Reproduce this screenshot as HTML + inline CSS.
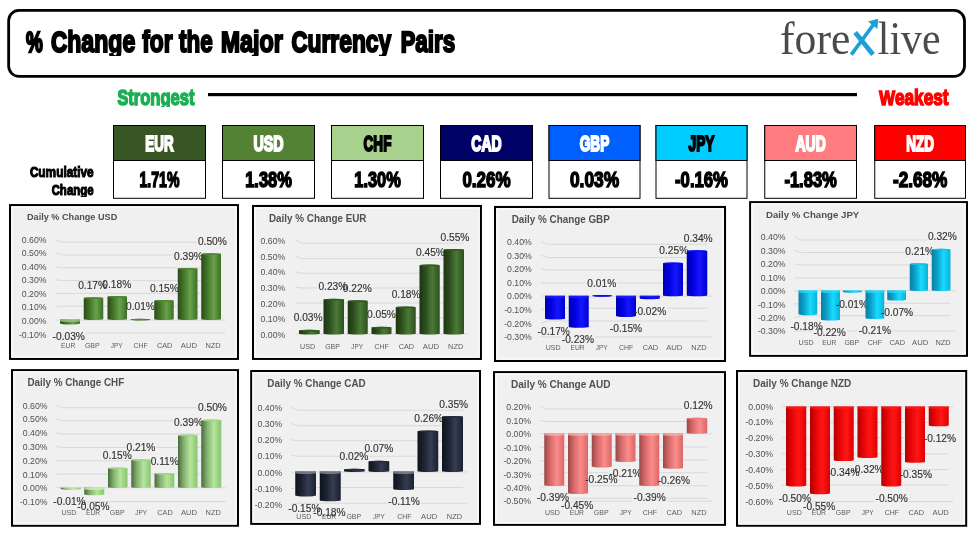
<!DOCTYPE html>
<html><head><meta charset="utf-8"><title>% Change for the Major Currency Pairs</title>
<style>
html,body{margin:0;padding:0;background:#fff;}
body{width:977px;height:536px;overflow:hidden;font-family:"Liberation Sans",sans-serif;}
svg{display:block;}
text{font-family:"Liberation Sans",sans-serif;}
.ct{font-weight:bold;fill:#505050;}
.yl{font-size:8.7px;fill:#505050;text-anchor:end;}
.cl{font-size:7.7px;fill:#5c5c5c;text-anchor:middle;}
.dl{font-size:10.2px;fill:#333;stroke:#333;stroke-width:0.15px;text-anchor:middle;}
.gl{fill:none;stroke:#d9d9d9;stroke-width:1;}
.imp{font-weight:bold;stroke-linejoin:miter;stroke-miterlimit:2.5;vector-effect:non-scaling-stroke;}
.logo{font-family:"Liberation Serif",serif;font-size:46px;fill:#4a4a4a;}
</style></head><body>
<svg width="977" height="536" viewBox="0 0 977 536">
<defs>
<linearGradient id="g_dgreen" x1="0" x2="1" y1="0" y2="0"><stop offset="0" stop-color="#2a4a1a"/><stop offset="0.3" stop-color="#437529"/><stop offset="0.63" stop-color="#69a24a"/><stop offset="1" stop-color="#3d6e27"/></linearGradient>
<linearGradient id="g_egreen" x1="0" x2="1" y1="0" y2="0"><stop offset="0" stop-color="#1c3412"/><stop offset="0.3" stop-color="#2d4f1f"/><stop offset="0.63" stop-color="#4a7a35"/><stop offset="1" stop-color="#2c5120"/></linearGradient>
<linearGradient id="g_blue" x1="0" x2="1" y1="0" y2="0"><stop offset="0" stop-color="#0000b0"/><stop offset="0.3" stop-color="#0000de"/><stop offset="0.63" stop-color="#1616ff"/><stop offset="1" stop-color="#0000d0"/></linearGradient>
<linearGradient id="g_cyan" x1="0" x2="1" y1="0" y2="0"><stop offset="0" stop-color="#087ea4"/><stop offset="0.3" stop-color="#0ca2ca"/><stop offset="0.63" stop-color="#16dcff"/><stop offset="1" stop-color="#0cb0d8"/></linearGradient>
<linearGradient id="g_lgreen" x1="0" x2="1" y1="0" y2="0"><stop offset="0" stop-color="#4a6a3c"/><stop offset="0.3" stop-color="#86b272"/><stop offset="0.63" stop-color="#b4e69a"/><stop offset="1" stop-color="#8ac272"/></linearGradient>
<linearGradient id="g_navy" x1="0" x2="1" y1="0" y2="0"><stop offset="0" stop-color="#0f131c"/><stop offset="0.3" stop-color="#1c2230"/><stop offset="0.63" stop-color="#353d52"/><stop offset="1" stop-color="#1a2030"/></linearGradient>
<linearGradient id="g_pink" x1="0" x2="1" y1="0" y2="0"><stop offset="0" stop-color="#984848"/><stop offset="0.3" stop-color="#d86a6a"/><stop offset="0.63" stop-color="#fa8c8c"/><stop offset="1" stop-color="#dc6666"/></linearGradient>
<linearGradient id="g_red" x1="0" x2="1" y1="0" y2="0"><stop offset="0" stop-color="#b00000"/><stop offset="0.3" stop-color="#e60606"/><stop offset="0.63" stop-color="#ff1616"/><stop offset="1" stop-color="#de0000"/></linearGradient>
</defs>
<clipPath id="cpT"><rect x="0" y="29.6" width="977" height="26.3"/></clipPath>
<clipPath id="cpS"><rect x="0" y="88" width="977" height="18.8"/></clipPath>
<clipPath id="cpC1"><rect x="0" y="165" width="120" height="14.5"/></clipPath>
<clipPath id="cpC2"><rect x="0" y="182.8" width="120" height="14.3"/></clipPath>
<filter id="idf" x="0" y="0" width="977" height="536" filterUnits="userSpaceOnUse"><feOffset dx="0" dy="0"/></filter>
<rect x="0" y="0" width="977" height="536" fill="#fff"/>
<g filter="url(#idf)">
<!-- title box -->
<rect x="8.65" y="10.45" width="955.85" height="65.95" rx="10.3" ry="10.3" fill="#fff" stroke="#000" stroke-width="2.8"/>
<g clip-path="url(#cpT)"><text transform="translate(26.00,51.8) scale(0.6364,1)" class="imp" font-size="29.6" fill="#000" stroke="#000" stroke-width="2.0" text-anchor="start">%</text></g>
<g clip-path="url(#cpT)"><text transform="translate(51.00,51.8) scale(0.7579,1)" class="imp" font-size="29.6" fill="#000" stroke="#000" stroke-width="2.0" text-anchor="start">C<tspan font-size="30.49">hange</tspan></text></g>
<g clip-path="url(#cpT)"><text transform="translate(142.25,51.8) scale(0.7505,1)" class="imp" font-size="29.6" fill="#000" stroke="#000" stroke-width="2.0" text-anchor="start"><tspan font-size="30.49">for</tspan></text></g>
<g clip-path="url(#cpT)"><text transform="translate(179.00,51.8) scale(0.7380,1)" class="imp" font-size="29.6" fill="#000" stroke="#000" stroke-width="2.0" text-anchor="start"><tspan font-size="30.49">the</tspan></text></g>
<g clip-path="url(#cpT)"><text transform="translate(221.00,51.8) scale(0.7695,1)" class="imp" font-size="29.6" fill="#000" stroke="#000" stroke-width="2.0" text-anchor="start">M<tspan font-size="30.49">ajor</tspan></text></g>
<g clip-path="url(#cpT)"><text transform="translate(291.40,51.8) scale(0.7499,1)" class="imp" font-size="29.6" fill="#000" stroke="#000" stroke-width="2.0" text-anchor="start">C<tspan font-size="30.49">urrency</tspan></text></g>
<g clip-path="url(#cpT)"><text transform="translate(400.70,51.8) scale(0.7366,1)" class="imp" font-size="29.6" fill="#000" stroke="#000" stroke-width="2.0" text-anchor="start">P<tspan font-size="30.49">airs</tspan></text></g>
<!-- logo -->
<text transform="translate(780,54.2) scale(0.95,1)" class="logo">fore</text>
<text transform="translate(877.8,54.2) scale(0.91,1)" class="logo">live</text>
<g fill="none" stroke="#1e9fd8">
<path d="M851.3 54.6 L875 22.5" stroke-width="3.7"/>
<path d="M855.2 32.6 L873 54.6" stroke-width="4.8"/>
</g>
<path d="M868 21.6 L878.2 18.8 L877.4 29 Z" fill="#1e9fd8"/>
<!-- strongest / weakest -->
<g clip-path="url(#cpS)"><text transform="translate(117.45,104.6) scale(0.7526,1)" class="imp" font-size="21.4" fill="#1aaf54" stroke="#1aaf54" stroke-width="1.5" text-anchor="start">S<tspan font-size="22.04">trongest</tspan></text></g>
<g clip-path="url(#cpS)"><text transform="translate(879.25,104.5) scale(0.7944,1)" class="imp" font-size="21.0" fill="#ff0000" stroke="#ff0000" stroke-width="1.5" text-anchor="start">W<tspan font-size="21.63">eakest</tspan></text></g>
<rect x="208" y="93" width="649" height="3.2" fill="#000"/>
<!-- cumulative change -->
<g clip-path="url(#cpC1)"><text transform="translate(93.70,177) scale(0.7673,1)" class="imp" font-size="15" fill="#000" stroke="#000" stroke-width="1.1" text-anchor="end">C<tspan font-size="15.45">umulative</tspan></text></g>
<g clip-path="url(#cpC2)"><text transform="translate(93.70,194.5) scale(0.7438,1)" class="imp" font-size="15" fill="#000" stroke="#000" stroke-width="1.1" text-anchor="end">C<tspan font-size="15.45">hange</tspan></text></g>
<rect x="113.5" y="125.5" width="92" height="72.8" fill="#fff" stroke="#000" stroke-width="1"/>
<rect x="113.5" y="125.5" width="92" height="35" fill="#375623" stroke="#000" stroke-width="1"/>
<text transform="translate(159.50,151.25) scale(0.5905,1)" class="imp" font-size="22.7" fill="#fff" stroke="#fff" stroke-width="1.7" text-anchor="middle">EUR</text>
<text transform="translate(159.50,186.75) scale(0.6523,1)" class="imp" font-size="21.6" fill="#000" stroke="#000" stroke-width="1.3" text-anchor="middle">1.71%</text>
<rect x="222.5" y="125.5" width="92" height="72.8" fill="#fff" stroke="#000" stroke-width="1"/>
<rect x="222.5" y="125.5" width="92" height="35" fill="#548235" stroke="#000" stroke-width="1"/>
<text transform="translate(268.50,151.25) scale(0.6270,1)" class="imp" font-size="22.7" fill="#fff" stroke="#fff" stroke-width="1.7" text-anchor="middle">USD</text>
<text transform="translate(268.50,186.75) scale(0.7625,1)" class="imp" font-size="21.6" fill="#000" stroke="#000" stroke-width="1.3" text-anchor="middle">1.38%</text>
<rect x="331.5" y="125.5" width="92" height="72.8" fill="#fff" stroke="#000" stroke-width="1"/>
<rect x="331.5" y="125.5" width="92" height="35" fill="#a9d18e" stroke="#000" stroke-width="1"/>
<text transform="translate(377.50,151.25) scale(0.5959,1)" class="imp" font-size="22.7" fill="#000" stroke="#000" stroke-width="1.7" text-anchor="middle">CHF</text>
<text transform="translate(377.50,186.75) scale(0.7584,1)" class="imp" font-size="21.6" fill="#000" stroke="#000" stroke-width="1.3" text-anchor="middle">1.30%</text>
<rect x="440.5" y="125.5" width="92" height="72.8" fill="#fff" stroke="#000" stroke-width="1"/>
<rect x="440.5" y="125.5" width="92" height="35" fill="#000066" stroke="#000" stroke-width="1"/>
<text transform="translate(486.50,151.25) scale(0.6161,1)" class="imp" font-size="22.7" fill="#fff" stroke="#fff" stroke-width="1.7" text-anchor="middle">CAD</text>
<text transform="translate(486.50,186.75) scale(0.7870,1)" class="imp" font-size="21.6" fill="#000" stroke="#000" stroke-width="1.3" text-anchor="middle">0.26%</text>
<rect x="549.0" y="125.5" width="91.0" height="72.8" fill="#fff" stroke="#000" stroke-width="1"/>
<rect x="549.0" y="125.5" width="91.0" height="35" fill="#0060ff" stroke="#000" stroke-width="1"/>
<text transform="translate(594.50,151.25) scale(0.6007,1)" class="imp" font-size="22.7" fill="#fff" stroke="#fff" stroke-width="1.7" text-anchor="middle">GBP</text>
<text transform="translate(594.50,186.75) scale(0.8033,1)" class="imp" font-size="21.6" fill="#000" stroke="#000" stroke-width="1.3" text-anchor="middle">0.03%</text>
<rect x="656.0" y="125.5" width="91.0" height="72.8" fill="#fff" stroke="#000" stroke-width="1"/>
<rect x="656.0" y="125.5" width="91.0" height="35" fill="#00ccff" stroke="#000" stroke-width="1"/>
<text transform="translate(701.50,151.25) scale(0.6036,1)" class="imp" font-size="22.7" fill="#000" stroke="#000" stroke-width="1.7" text-anchor="middle">JPY</text>
<text transform="translate(701.50,186.75) scale(0.7730,1)" class="imp" font-size="21.6" fill="#000" stroke="#000" stroke-width="1.3" text-anchor="middle">-0.16%</text>
<rect x="764.75" y="125.5" width="91.75" height="72.8" fill="#fff" stroke="#000" stroke-width="1"/>
<rect x="764.75" y="125.5" width="91.75" height="35" fill="#ff7c80" stroke="#000" stroke-width="1"/>
<text transform="translate(810.62,151.25) scale(0.6161,1)" class="imp" font-size="22.7" fill="#fff" stroke="#fff" stroke-width="1.7" text-anchor="middle">AUD</text>
<text transform="translate(810.62,186.75) scale(0.7664,1)" class="imp" font-size="21.6" fill="#000" stroke="#000" stroke-width="1.3" text-anchor="middle">-1.83%</text>
<rect x="874.75" y="125.5" width="90.75" height="72.8" fill="#fff" stroke="#000" stroke-width="1"/>
<rect x="874.75" y="125.5" width="90.75" height="35" fill="#ff0000" stroke="#000" stroke-width="1"/>
<text transform="translate(920.12,151.25) scale(0.5959,1)" class="imp" font-size="22.7" fill="#fff" stroke="#fff" stroke-width="1.7" text-anchor="middle">NZD</text>
<text transform="translate(920.12,186.75) scale(0.7956,1)" class="imp" font-size="21.6" fill="#000" stroke="#000" stroke-width="1.3" text-anchor="middle">-2.68%</text>
<rect x="10.05" y="205.1" width="227.9" height="153.8" fill="#f0f0f0" stroke="#000" stroke-width="2.1"/>
<rect x="12.1" y="207.15" width="223.8" height="149.7" fill="none" stroke="#f8f8f8" stroke-width="2"/>
<text x="27" y="219.88" class="ct" font-size="9.4" textLength="90.25" lengthAdjust="spacingAndGlyphs">Daily % Change USD</text>
<path d="M55.3 239.7L61.5 242.2M61.5 242.2H196.87" class="gl"/>
<path d="M55.3 252.7L61.5 255M61.5 255H172.96M203.89 255H221" class="gl"/>
<path d="M55.3 266.7L61.5 267.8M61.5 267.8H221" class="gl"/>
<path d="M55.3 279.7L61.5 280.6M61.5 280.6H101.36M132.28 280.6H221" class="gl"/>
<path d="M55.3 293.7L61.5 293.4M61.5 293.4H221" class="gl"/>
<path d="M55.3 306.7L61.5 306.2M61.5 306.2H125.02M155.94 306.2H221" class="gl"/>
<path d="M55.3 320.2L61.5 320.2M61.5 320.2H225.5" class="gl"/>
<path d="M55.3 334.2L61.5 333.2M85.91 333.2H225.5" class="gl"/>
<text x="46.5" y="243" class="yl">0.60%</text>
<text x="46.5" y="256" class="yl">0.50%</text>
<text x="46.5" y="270" class="yl">0.40%</text>
<text x="46.5" y="283" class="yl">0.30%</text>
<text x="46.5" y="297" class="yl">0.20%</text>
<text x="46.5" y="310" class="yl">0.10%</text>
<text x="46.5" y="323.5" class="yl">0.00%</text>
<text x="46.5" y="337.5" class="yl">-0.10%</text>
<text x="68.2" y="347.75" class="cl" textLength="14.25" lengthAdjust="spacingAndGlyphs">EUR</text>
<text x="92.32" y="347.75" class="cl" textLength="14.75" lengthAdjust="spacingAndGlyphs">GBP</text>
<text x="116.69" y="347.75" class="cl" textLength="11.75" lengthAdjust="spacingAndGlyphs">JPY</text>
<text x="140.56" y="347.75" class="cl" textLength="14.25" lengthAdjust="spacingAndGlyphs">CHF</text>
<text x="164.68" y="347.75" class="cl" textLength="15.5" lengthAdjust="spacingAndGlyphs">CAD</text>
<text x="188.92" y="347.75" class="cl" textLength="16.25" lengthAdjust="spacingAndGlyphs">AUD</text>
<text x="213.04" y="347.75" class="cl" textLength="15.25" lengthAdjust="spacingAndGlyphs">NZD</text>
<path d="M60 319.6V323.61A10 0.8 0 0 0 80 323.61V319.6Z" fill="url(#g_dgreen)"/>
<path d="M60 319.6H80V321.2A10 0.9 0 0 1 60 321.2Z" fill="#9ec389" opacity="0.8"/>
<text x="68.75" y="339.61" class="dl">-0.03%</text>
<path d="M83.75 298.16V319.15A9.75 0.85 0 0 0 103.25 319.15V298.16A9.75 0.85 0 0 0 83.75 298.16Z" fill="url(#g_dgreen)"/>
<ellipse cx="93.5" cy="298.16" rx="9.75" ry="0.85" fill="#4f8535"/>
<text x="92.66" y="288.91" class="dl">0.17%</text>
<path d="M107.5 296.82V319.15A9.75 0.85 0 0 0 127 319.15V296.82A9.75 0.85 0 0 0 107.5 296.82Z" fill="url(#g_dgreen)"/>
<ellipse cx="117.25" cy="296.82" rx="9.75" ry="0.85" fill="#4f8535"/>
<text x="116.82" y="287.57" class="dl">0.18%</text>
<path d="M130.5 319.52V319.72A10 0.85 0 0 0 150.5 319.72V319.52A10 0.85 0 0 0 130.5 319.52Z" fill="url(#g_dgreen)"/>
<ellipse cx="140.5" cy="319.52" rx="10" ry="0.85" fill="#4f8535"/>
<text x="140.48" y="310.27" class="dl">0.01%</text>
<path d="M154.25 300.83V319.15A9.75 0.85 0 0 0 173.75 319.15V300.83A9.75 0.85 0 0 0 154.25 300.83Z" fill="url(#g_dgreen)"/>
<ellipse cx="164" cy="300.83" rx="9.75" ry="0.85" fill="#4f8535"/>
<text x="164.39" y="291.58" class="dl">0.15%</text>
<path d="M177.75 268.79V319.15A9.88 0.85 0 0 0 197.5 319.15V268.79A9.88 0.85 0 0 0 177.75 268.79Z" fill="url(#g_dgreen)"/>
<ellipse cx="187.62" cy="268.79" rx="9.88" ry="0.85" fill="#4f8535"/>
<text x="188.43" y="259.54" class="dl">0.39%</text>
<path d="M201.25 254.1V319.15A9.88 0.85 0 0 0 221 319.15V254.1A9.88 0.85 0 0 0 201.25 254.1Z" fill="url(#g_dgreen)"/>
<ellipse cx="211.12" cy="254.1" rx="9.88" ry="0.85" fill="#4f8535"/>
<text x="212.34" y="244.85" class="dl">0.50%</text>
<rect x="253.05" y="206" width="227.85" height="152.9" fill="#f0f0f0" stroke="#000" stroke-width="2.1"/>
<rect x="255.1" y="208.05" width="223.75" height="148.8" fill="none" stroke="#f8f8f8" stroke-width="2"/>
<text x="269" y="221.66" class="ct" font-size="10.16" textLength="97.5" lengthAdjust="spacingAndGlyphs">Daily % Change EUR</text>
<path d="M295.8 240.2L302 243.25M302 243.25H464" class="gl"/>
<path d="M295.8 256.2L302 258.75M302 258.75H464" class="gl"/>
<path d="M295.8 271.7L302 273.25M302 273.25H464" class="gl"/>
<path d="M295.8 287.2L302 288M302 288H317.45M372.78 288H464" class="gl"/>
<path d="M295.8 303.2L302 303M302 303H464" class="gl"/>
<path d="M295.8 318.45L302 318M323.59 318H366.02M396.94 318H464" class="gl"/>
<path d="M295.8 334.2L302 334M302 334H468.5" class="gl"/>
<text x="285.25" y="243.5" class="yl">0.60%</text>
<text x="285.25" y="259.5" class="yl">0.50%</text>
<text x="285.25" y="275" class="yl">0.40%</text>
<text x="285.25" y="290.5" class="yl">0.30%</text>
<text x="285.25" y="306.5" class="yl">0.20%</text>
<text x="285.25" y="321.75" class="yl">0.10%</text>
<text x="285.25" y="337.5" class="yl">0.00%</text>
<text x="307.57" y="349" class="cl" textLength="15.0" lengthAdjust="spacingAndGlyphs">USD</text>
<text x="332.57" y="349" class="cl" textLength="14.75" lengthAdjust="spacingAndGlyphs">GBP</text>
<text x="357.19" y="349" class="cl" textLength="11.75" lengthAdjust="spacingAndGlyphs">JPY</text>
<text x="381.56" y="349" class="cl" textLength="14.25" lengthAdjust="spacingAndGlyphs">CHF</text>
<text x="406.43" y="349" class="cl" textLength="15.5" lengthAdjust="spacingAndGlyphs">CAD</text>
<text x="430.93" y="349" class="cl" textLength="16.25" lengthAdjust="spacingAndGlyphs">AUD</text>
<text x="455.67" y="349" class="cl" textLength="15.25" lengthAdjust="spacingAndGlyphs">NZD</text>
<path d="M299 330.69V333.65A10.38 0.85 0 0 0 319.75 333.65V330.69A10.38 0.85 0 0 0 299 330.69Z" fill="url(#g_egreen)"/>
<ellipse cx="309.38" cy="330.69" rx="10.38" ry="0.85" fill="#355a26"/>
<text x="308.12" y="321.44" class="dl">0.03%</text>
<path d="M323.5 299.59V333.65A10.25 0.85 0 0 0 344 333.65V299.59A10.25 0.85 0 0 0 323.5 299.59Z" fill="url(#g_egreen)"/>
<ellipse cx="333.75" cy="299.59" rx="10.25" ry="0.85" fill="#355a26"/>
<text x="332.91" y="290.34" class="dl">0.23%</text>
<path d="M347.75 301.14V333.65A10 0.85 0 0 0 367.75 333.65V301.14A10 0.85 0 0 0 347.75 301.14Z" fill="url(#g_egreen)"/>
<ellipse cx="357.75" cy="301.14" rx="10" ry="0.85" fill="#355a26"/>
<text x="357.32" y="291.89" class="dl">0.22%</text>
<path d="M371.5 327.58V333.65A10 0.85 0 0 0 391.5 333.65V327.58A10 0.85 0 0 0 371.5 327.58Z" fill="url(#g_egreen)"/>
<ellipse cx="381.5" cy="327.58" rx="10" ry="0.85" fill="#355a26"/>
<text x="381.48" y="318.33" class="dl">0.05%</text>
<path d="M395.75 307.36V333.65A10 0.85 0 0 0 415.75 333.65V307.36A10 0.85 0 0 0 395.75 307.36Z" fill="url(#g_egreen)"/>
<ellipse cx="405.75" cy="307.36" rx="10" ry="0.85" fill="#355a26"/>
<text x="406.14" y="298.11" class="dl">0.18%</text>
<path d="M419.5 265.38V333.65A10.12 0.85 0 0 0 439.75 333.65V265.38A10.12 0.85 0 0 0 419.5 265.38Z" fill="url(#g_egreen)"/>
<ellipse cx="429.62" cy="265.38" rx="10.12" ry="0.85" fill="#355a26"/>
<text x="430.43" y="256.12" class="dl">0.45%</text>
<path d="M443.5 249.82V333.65A10.25 0.85 0 0 0 464 333.65V249.82A10.25 0.85 0 0 0 443.5 249.82Z" fill="url(#g_egreen)"/>
<ellipse cx="453.75" cy="249.82" rx="10.25" ry="0.85" fill="#355a26"/>
<text x="454.96" y="240.57" class="dl">0.55%</text>
<rect x="495.05" y="207" width="229.95" height="153.95" fill="#f0f0f0" stroke="#000" stroke-width="2.1"/>
<rect x="497.1" y="209.05" width="225.85" height="149.85" fill="none" stroke="#f8f8f8" stroke-width="2"/>
<text x="511.75" y="222.9" class="ct" font-size="10.15" textLength="98" lengthAdjust="spacingAndGlyphs">Daily % Change GBP</text>
<path d="M541.3 241.7L547.5 244.25M547.5 244.25H707.25" class="gl"/>
<path d="M541.3 255.45L547.5 257.5M547.5 257.5H707.25" class="gl"/>
<path d="M541.3 268.95L547.5 270M547.5 270H707.25" class="gl"/>
<path d="M541.3 282.7L547.5 283M547.5 283H586.36M617.28 283H707.25" class="gl"/>
<path d="M541.3 295.95L547.5 296.25M547.5 296.25H711.75" class="gl"/>
<path d="M541.3 309.7L547.5 308.25M547.5 308.25H632.98M667.3 308.25H707.25" class="gl"/>
<path d="M541.3 323.2L547.5 321M547.5 321H707.25" class="gl"/>
<path d="M541.3 336.7L547.5 337M547.5 337H560.75M595.07 337H711.75" class="gl"/>
<text x="531.75" y="245" class="yl">0.40%</text>
<text x="531.75" y="258.75" class="yl">0.30%</text>
<text x="531.75" y="272.25" class="yl">0.20%</text>
<text x="531.75" y="286" class="yl">0.10%</text>
<text x="531.75" y="299.25" class="yl">0.00%</text>
<text x="531.75" y="313" class="yl">-0.10%</text>
<text x="531.75" y="326.5" class="yl">-0.20%</text>
<text x="531.75" y="340" class="yl">-0.30%</text>
<text x="553.2" y="349.75" class="cl" textLength="15.0" lengthAdjust="spacingAndGlyphs">USD</text>
<text x="577.57" y="349.75" class="cl" textLength="14.25" lengthAdjust="spacingAndGlyphs">EUR</text>
<text x="601.69" y="349.75" class="cl" textLength="11.75" lengthAdjust="spacingAndGlyphs">JPY</text>
<text x="626.06" y="349.75" class="cl" textLength="14.25" lengthAdjust="spacingAndGlyphs">CHF</text>
<text x="650.43" y="349.75" class="cl" textLength="15.5" lengthAdjust="spacingAndGlyphs">CAD</text>
<text x="674.3" y="349.75" class="cl" textLength="16.25" lengthAdjust="spacingAndGlyphs">AUD</text>
<text x="698.92" y="349.75" class="cl" textLength="15.25" lengthAdjust="spacingAndGlyphs">NZD</text>
<path d="M545 295.85V318.8A10 0.8 0 0 0 565 318.8V295.85Z" fill="url(#g_blue)"/>
<path d="M545 295.85H565V297.45A10 0.9 0 0 1 545 297.45Z" fill="#1d1dff" opacity="0.8"/>
<text x="553.75" y="334.8" class="dl">-0.17%</text>
<path d="M568.75 295.85V326.9A10 0.8 0 0 0 588.75 326.9V295.85Z" fill="url(#g_blue)"/>
<path d="M568.75 295.85H588.75V297.45A10 0.9 0 0 1 568.75 297.45Z" fill="#1d1dff" opacity="0.8"/>
<text x="577.91" y="342.9" class="dl">-0.23%</text>
<path d="M592.25 295.75V295.95A10 0.85 0 0 0 612.25 295.95V295.75A10 0.85 0 0 0 592.25 295.75Z" fill="url(#g_blue)"/>
<ellipse cx="602.25" cy="295.75" rx="10" ry="0.85" fill="#0a0af4"/>
<text x="601.82" y="286.5" class="dl">0.01%</text>
<path d="M616 295.85V316.1A10 0.8 0 0 0 636 316.1V295.85Z" fill="url(#g_blue)"/>
<path d="M616 295.85H636V297.45A10 0.9 0 0 1 616 297.45Z" fill="#1d1dff" opacity="0.8"/>
<text x="625.98" y="332.1" class="dl">-0.15%</text>
<path d="M639.75 295.85V298.55A10 0.8 0 0 0 659.75 298.55V295.85Z" fill="url(#g_blue)"/>
<path d="M639.75 295.85H659.75V296.67A10 0.9 0 0 1 639.75 296.67Z" fill="#1d1dff" opacity="0.8"/>
<text x="650.14" y="314.55" class="dl">-0.02%</text>
<path d="M663 263.35V295.4A10 0.85 0 0 0 683 295.4V263.35A10 0.85 0 0 0 663 263.35Z" fill="url(#g_blue)"/>
<ellipse cx="673" cy="263.35" rx="10" ry="0.85" fill="#0a0af4"/>
<text x="673.8" y="254.1" class="dl">0.25%</text>
<path d="M686.75 251.2V295.4A10.25 0.85 0 0 0 707.25 295.4V251.2A10.25 0.85 0 0 0 686.75 251.2Z" fill="url(#g_blue)"/>
<ellipse cx="697" cy="251.2" rx="10.25" ry="0.85" fill="#0a0af4"/>
<text x="698.21" y="241.95" class="dl">0.34%</text>
<rect x="750.15" y="202.15" width="216.8" height="153.65" fill="#f0f0f0" stroke="#000" stroke-width="2.1"/>
<rect x="752.2" y="204.2" width="212.7" height="149.55" fill="none" stroke="#f8f8f8" stroke-width="2"/>
<text x="766" y="217.82" class="ct" font-size="9.93" textLength="93.25" lengthAdjust="spacingAndGlyphs">Daily % Change JPY</text>
<path d="M794.3 236.7L800.5 240M800.5 240H926.87" class="gl"/>
<path d="M794.3 250.45L800.5 252.5M800.5 252.5H904.21M935.14 252.5H950.5" class="gl"/>
<path d="M794.3 263.95L800.5 265M800.5 265H950.5" class="gl"/>
<path d="M794.3 277.7L800.5 278M800.5 278H950.5" class="gl"/>
<path d="M794.3 290.95L800.5 290.75M800.5 290.75H955" class="gl"/>
<path d="M794.3 304.2L800.5 303.25M800.5 303.25H834.79M869.1 303.25H950.5" class="gl"/>
<path d="M794.3 317.7L800.5 315.75M800.5 315.75H879.86M914.17 315.75H950.5" class="gl"/>
<path d="M794.3 330.95L800.5 331M800.5 331H812.5M846.82 331H857.7M892.01 331H955" class="gl"/>
<text x="785.5" y="240" class="yl">0.40%</text>
<text x="785.5" y="253.75" class="yl">0.30%</text>
<text x="785.5" y="267.25" class="yl">0.20%</text>
<text x="785.5" y="281" class="yl">0.10%</text>
<text x="785.5" y="294.25" class="yl">0.00%</text>
<text x="785.5" y="307.5" class="yl">-0.10%</text>
<text x="785.5" y="321" class="yl">-0.20%</text>
<text x="785.5" y="334.25" class="yl">-0.30%</text>
<text x="806.08" y="344.75" class="cl" textLength="15.0" lengthAdjust="spacingAndGlyphs">USD</text>
<text x="829.32" y="344.75" class="cl" textLength="14.25" lengthAdjust="spacingAndGlyphs">EUR</text>
<text x="851.82" y="344.75" class="cl" textLength="14.75" lengthAdjust="spacingAndGlyphs">GBP</text>
<text x="874.94" y="344.75" class="cl" textLength="14.25" lengthAdjust="spacingAndGlyphs">CHF</text>
<text x="897.31" y="344.75" class="cl" textLength="15.5" lengthAdjust="spacingAndGlyphs">CAD</text>
<text x="920.18" y="344.75" class="cl" textLength="16.25" lengthAdjust="spacingAndGlyphs">AUD</text>
<text x="943.05" y="344.75" class="cl" textLength="15.25" lengthAdjust="spacingAndGlyphs">NZD</text>
<path d="M798.5 290.6V314.36A9.38 0.8 0 0 0 817.25 314.36V290.6Z" fill="url(#g_cyan)"/>
<path d="M798.5 290.6H817.25V292.2A9.38 0.9 0 0 1 798.5 292.2Z" fill="#1fddff" opacity="0.8"/>
<text x="806.62" y="330.36" class="dl">-0.18%</text>
<path d="M821 290.6V319.64A9.5 0.8 0 0 0 840 319.64V290.6Z" fill="url(#g_cyan)"/>
<path d="M821 290.6H840V292.2A9.5 0.9 0 0 1 821 292.2Z" fill="#1fddff" opacity="0.8"/>
<text x="829.66" y="335.64" class="dl">-0.22%</text>
<path d="M843 290.6V291.92A9.38 0.8 0 0 0 861.75 291.92V290.6Z" fill="url(#g_cyan)"/>
<path d="M843 290.6H861.75V290.6A9.38 0.9 0 0 1 843 290.6Z" fill="#1fddff" opacity="0.8"/>
<text x="851.95" y="307.92" class="dl">-0.01%</text>
<path d="M865.5 290.6V318.32A9.38 0.8 0 0 0 884.25 318.32V290.6Z" fill="url(#g_cyan)"/>
<path d="M865.5 290.6H884.25V292.2A9.38 0.9 0 0 1 865.5 292.2Z" fill="#1fddff" opacity="0.8"/>
<text x="874.86" y="334.32" class="dl">-0.21%</text>
<path d="M887.25 290.6V299.84A9.38 0.8 0 0 0 906 299.84V290.6Z" fill="url(#g_cyan)"/>
<path d="M887.25 290.6H906V292.2A9.38 0.9 0 0 1 887.25 292.2Z" fill="#1fddff" opacity="0.8"/>
<text x="897.01" y="315.84" class="dl">-0.07%</text>
<path d="M909.75 264.13V290.15A9.12 0.85 0 0 0 928 290.15V264.13A9.12 0.85 0 0 0 909.75 264.13Z" fill="url(#g_cyan)"/>
<ellipse cx="918.88" cy="264.13" rx="9.12" ry="0.85" fill="#14c0e8"/>
<text x="919.67" y="254.88" class="dl">0.21%</text>
<path d="M931.75 249.61V290.15A9.38 0.85 0 0 0 950.5 290.15V249.61A9.38 0.85 0 0 0 931.75 249.61Z" fill="url(#g_cyan)"/>
<ellipse cx="941.12" cy="249.61" rx="9.38" ry="0.85" fill="#14c0e8"/>
<text x="942.34" y="240.36" class="dl">0.32%</text>
<rect x="12.05" y="370.15" width="225.9" height="155.55" fill="#f0f0f0" stroke="#000" stroke-width="2.1"/>
<rect x="14.1" y="372.2" width="221.8" height="151.45" fill="none" stroke="#f8f8f8" stroke-width="2"/>
<text x="27.5" y="386.15" class="ct" font-size="10.13" textLength="96.75" lengthAdjust="spacingAndGlyphs">Daily % Change CHF</text>
<path d="M56.3 405.45L62.5 407.75M62.5 407.75H197" class="gl"/>
<path d="M56.3 418.7L62.5 420.75M62.5 420.75H173.09M204.01 420.75H221.25" class="gl"/>
<path d="M56.3 432.95L62.5 434M62.5 434H221.25" class="gl"/>
<path d="M56.3 446.7L62.5 447.5M62.5 447.5H125.52M156.44 447.5H221.25" class="gl"/>
<path d="M56.3 460.45L62.5 460.75M62.5 460.75H149.68M179.85 460.75H221.25" class="gl"/>
<path d="M56.3 474.2L62.5 474M62.5 474H221.25" class="gl"/>
<path d="M56.3 487.45L62.5 487.75M62.5 487.75H225.75" class="gl"/>
<path d="M56.3 501.7L62.5 501.5M86.66 501.5H225.75" class="gl"/>
<text x="47.5" y="408.75" class="yl">0.60%</text>
<text x="47.5" y="422" class="yl">0.50%</text>
<text x="47.5" y="436.25" class="yl">0.40%</text>
<text x="47.5" y="450" class="yl">0.30%</text>
<text x="47.5" y="463.75" class="yl">0.20%</text>
<text x="47.5" y="477.5" class="yl">0.10%</text>
<text x="47.5" y="490.75" class="yl">0.00%</text>
<text x="47.5" y="505" class="yl">-0.10%</text>
<text x="68.95" y="514.75" class="cl" textLength="15.0" lengthAdjust="spacingAndGlyphs">USD</text>
<text x="93.07" y="514.75" class="cl" textLength="14.25" lengthAdjust="spacingAndGlyphs">EUR</text>
<text x="117.19" y="514.75" class="cl" textLength="14.75" lengthAdjust="spacingAndGlyphs">GBP</text>
<text x="141.06" y="514.75" class="cl" textLength="11.75" lengthAdjust="spacingAndGlyphs">JPY</text>
<text x="165.05" y="514.75" class="cl" textLength="15.5" lengthAdjust="spacingAndGlyphs">CAD</text>
<text x="189.05" y="514.75" class="cl" textLength="16.25" lengthAdjust="spacingAndGlyphs">AUD</text>
<text x="213.17" y="514.75" class="cl" textLength="15.25" lengthAdjust="spacingAndGlyphs">NZD</text>
<path d="M60.75 487.6V488.97A10 0.8 0 0 0 80.75 488.97V487.6Z" fill="url(#g_lgreen)"/>
<path d="M60.75 487.6H80.75V487.62A10 0.9 0 0 1 60.75 487.62Z" fill="#ceefbd" opacity="0.8"/>
<text x="69.5" y="504.97" class="dl">-0.01%</text>
<path d="M84.25 487.6V494.45A10 0.8 0 0 0 104.25 494.45V487.6Z" fill="url(#g_lgreen)"/>
<path d="M84.25 487.6H104.25V489.2A10 0.9 0 0 1 84.25 489.2Z" fill="#ceefbd" opacity="0.8"/>
<text x="93.41" y="510.45" class="dl">-0.05%</text>
<path d="M108 468.3V487.15A9.75 0.85 0 0 0 127.5 487.15V468.3A9.75 0.85 0 0 0 108 468.3Z" fill="url(#g_lgreen)"/>
<ellipse cx="117.75" cy="468.3" rx="9.75" ry="0.85" fill="#a2d48a"/>
<text x="117.32" y="459.05" class="dl">0.15%</text>
<path d="M131.25 460.08V487.15A9.75 0.85 0 0 0 150.75 487.15V460.08A9.75 0.85 0 0 0 131.25 460.08Z" fill="url(#g_lgreen)"/>
<ellipse cx="141" cy="460.08" rx="9.75" ry="0.85" fill="#a2d48a"/>
<text x="140.98" y="450.83" class="dl">0.21%</text>
<path d="M154.5 473.78V487.15A9.88 0.85 0 0 0 174.25 487.15V473.78A9.88 0.85 0 0 0 154.5 473.78Z" fill="url(#g_lgreen)"/>
<ellipse cx="164.38" cy="473.78" rx="9.88" ry="0.85" fill="#a2d48a"/>
<text x="164.76" y="464.53" class="dl">0.11%</text>
<path d="M178 435.42V487.15A9.75 0.85 0 0 0 197.5 487.15V435.42A9.75 0.85 0 0 0 178 435.42Z" fill="url(#g_lgreen)"/>
<ellipse cx="187.75" cy="435.42" rx="9.75" ry="0.85" fill="#a2d48a"/>
<text x="188.55" y="426.17" class="dl">0.39%</text>
<path d="M201.25 420.35V487.15A10 0.85 0 0 0 221.25 487.15V420.35A10 0.85 0 0 0 201.25 420.35Z" fill="url(#g_lgreen)"/>
<ellipse cx="211.25" cy="420.35" rx="10" ry="0.85" fill="#a2d48a"/>
<text x="212.46" y="411.1" class="dl">0.50%</text>
<rect x="251.25" y="371.05" width="228.7" height="152.8" fill="#f0f0f0" stroke="#000" stroke-width="2.1"/>
<rect x="253.3" y="373.1" width="224.6" height="148.7" fill="none" stroke="#f8f8f8" stroke-width="2"/>
<text x="267.25" y="386.67" class="ct" font-size="10.2" textLength="98.5" lengthAdjust="spacingAndGlyphs">Daily % Change CAD</text>
<path d="M291.3 407.2L297.5 410.25M297.5 410.25H463" class="gl"/>
<path d="M291.3 423.45L297.5 425.75M297.5 425.75H463" class="gl"/>
<path d="M291.3 439.7L297.5 440.75M297.5 440.75H463" class="gl"/>
<path d="M291.3 455.45L297.5 456.25M297.5 456.25H338.48M369.41 456.25H463" class="gl"/>
<path d="M291.3 472.45L297.5 472M297.5 472H467.5" class="gl"/>
<path d="M291.3 488.7L297.5 487.5M297.5 487.5H463" class="gl"/>
<path d="M291.3 504.2L297.5 503.25M297.5 503.25H387.23M420.8 503.25H467.5" class="gl"/>
<text x="282.25" y="410.5" class="yl">0.40%</text>
<text x="282.25" y="426.75" class="yl">0.30%</text>
<text x="282.25" y="443" class="yl">0.20%</text>
<text x="282.25" y="458.75" class="yl">0.10%</text>
<text x="282.25" y="475.75" class="yl">0.00%</text>
<text x="282.25" y="492" class="yl">-0.10%</text>
<text x="282.25" y="507.5" class="yl">-0.20%</text>
<text x="303.82" y="519" class="cl" textLength="15.0" lengthAdjust="spacingAndGlyphs">USD</text>
<text x="329.07" y="519" class="cl" textLength="14.25" lengthAdjust="spacingAndGlyphs">EUR</text>
<text x="353.81" y="519" class="cl" textLength="14.75" lengthAdjust="spacingAndGlyphs">GBP</text>
<text x="378.94" y="519" class="cl" textLength="11.75" lengthAdjust="spacingAndGlyphs">JPY</text>
<text x="404.31" y="519" class="cl" textLength="14.25" lengthAdjust="spacingAndGlyphs">CHF</text>
<text x="429.18" y="519" class="cl" textLength="16.25" lengthAdjust="spacingAndGlyphs">AUD</text>
<text x="454.42" y="519" class="cl" textLength="15.25" lengthAdjust="spacingAndGlyphs">NZD</text>
<path d="M295.25 471.6V495.6A10.38 0.8 0 0 0 316 495.6V471.6Z" fill="url(#g_navy)"/>
<path d="M295.25 471.6H316V473.2A10.38 0.9 0 0 1 295.25 473.2Z" fill="#868b97" opacity="0.8"/>
<text x="304.38" y="511.6" class="dl">-0.15%</text>
<path d="M319.75 471.6V500.4A10.5 0.8 0 0 0 340.75 500.4V471.6Z" fill="url(#g_navy)"/>
<path d="M319.75 471.6H340.75V473.2A10.5 0.9 0 0 1 319.75 473.2Z" fill="#868b97" opacity="0.8"/>
<text x="329.41" y="516.4" class="dl">-0.18%</text>
<path d="M344 469.65V471.15A10.38 0.85 0 0 0 364.75 471.15V469.65A10.38 0.85 0 0 0 344 469.65Z" fill="url(#g_navy)"/>
<ellipse cx="354.38" cy="469.65" rx="10.38" ry="0.85" fill="#252c3c"/>
<text x="353.94" y="460.4" class="dl">0.02%</text>
<path d="M368.5 461.65V471.15A10.38 0.85 0 0 0 389.25 471.15V461.65A10.38 0.85 0 0 0 368.5 461.65Z" fill="url(#g_navy)"/>
<ellipse cx="378.88" cy="461.65" rx="10.38" ry="0.85" fill="#252c3c"/>
<text x="378.86" y="452.4" class="dl">0.07%</text>
<path d="M393.25 471.6V489.2A10.38 0.8 0 0 0 414 489.2V471.6Z" fill="url(#g_navy)"/>
<path d="M393.25 471.6H414V473.2A10.38 0.9 0 0 1 393.25 473.2Z" fill="#868b97" opacity="0.8"/>
<text x="404.01" y="505.2" class="dl">-0.11%</text>
<path d="M417.5 431.25V471.15A10.38 0.85 0 0 0 438.25 471.15V431.25A10.38 0.85 0 0 0 417.5 431.25Z" fill="url(#g_navy)"/>
<ellipse cx="427.88" cy="431.25" rx="10.38" ry="0.85" fill="#252c3c"/>
<text x="428.68" y="422" class="dl">0.26%</text>
<path d="M442 416.85V471.15A10.5 0.85 0 0 0 463 471.15V416.85A10.5 0.85 0 0 0 442 416.85Z" fill="url(#g_navy)"/>
<ellipse cx="452.5" cy="416.85" rx="10.5" ry="0.85" fill="#252c3c"/>
<text x="453.71" y="407.6" class="dl">0.35%</text>
<rect x="494.05" y="372.15" width="230.9" height="152.65" fill="#f0f0f0" stroke="#000" stroke-width="2.1"/>
<rect x="496.1" y="374.2" width="226.8" height="148.55" fill="none" stroke="#f8f8f8" stroke-width="2"/>
<text x="511" y="387.97" class="ct" font-size="10.34" textLength="99.5" lengthAdjust="spacingAndGlyphs">Daily % Change AUD</text>
<path d="M540.3 406.2L546.5 409M546.5 409H682.75" class="gl"/>
<path d="M540.3 420.45L546.5 421.5M546.5 421.5H707.25" class="gl"/>
<path d="M540.3 433.7L546.5 433.75M546.5 433.75H711.75" class="gl"/>
<path d="M540.3 447.45L546.5 447M546.5 447H707.25" class="gl"/>
<path d="M540.3 460.95L546.5 460M546.5 460H707.25" class="gl"/>
<path d="M540.3 474.2L546.5 472.75M546.5 472.75H608.32M642.64 472.75H707.25" class="gl"/>
<path d="M540.3 487.45L546.5 485.75M546.5 485.75H707.25" class="gl"/>
<path d="M540.3 500.95L546.5 498.25M570.16 498.25H632.48M666.8 498.25H707.25" class="gl"/>
<path d="M540.3 500.95L546.5 501.25M570.16 501.25H632.48M666.8 501.25H711.75" class="gl"/>
<text x="531" y="409.5" class="yl">0.20%</text>
<text x="531" y="423.75" class="yl">0.10%</text>
<text x="531" y="437" class="yl">0.00%</text>
<text x="531" y="450.75" class="yl">-0.10%</text>
<text x="531" y="464.25" class="yl">-0.20%</text>
<text x="531" y="477.5" class="yl">-0.30%</text>
<text x="531" y="490.75" class="yl">-0.40%</text>
<text x="531" y="504.25" class="yl">-0.50%</text>
<text x="552.45" y="514.75" class="cl" textLength="15.0" lengthAdjust="spacingAndGlyphs">USD</text>
<text x="576.82" y="514.75" class="cl" textLength="14.25" lengthAdjust="spacingAndGlyphs">EUR</text>
<text x="601.19" y="514.75" class="cl" textLength="14.75" lengthAdjust="spacingAndGlyphs">GBP</text>
<text x="625.56" y="514.75" class="cl" textLength="11.75" lengthAdjust="spacingAndGlyphs">JPY</text>
<text x="649.93" y="514.75" class="cl" textLength="14.25" lengthAdjust="spacingAndGlyphs">CHF</text>
<text x="674.3" y="514.75" class="cl" textLength="15.5" lengthAdjust="spacingAndGlyphs">CAD</text>
<text x="698.92" y="514.75" class="cl" textLength="15.25" lengthAdjust="spacingAndGlyphs">NZD</text>
<path d="M544.25 433.35V485.22A10 0.8 0 0 0 564.25 485.22V433.35Z" fill="url(#g_pink)"/>
<path d="M544.25 433.35H564.25V434.95A10 0.9 0 0 1 544.25 434.95Z" fill="#fcaeae" opacity="0.8"/>
<text x="553" y="501.22" class="dl">-0.39%</text>
<path d="M568 433.35V493.2A10 0.8 0 0 0 588 493.2V433.35Z" fill="url(#g_pink)"/>
<path d="M568 433.35H588V434.95A10 0.9 0 0 1 568 434.95Z" fill="#fcaeae" opacity="0.8"/>
<text x="577.16" y="509.2" class="dl">-0.45%</text>
<path d="M591.75 433.35V466.6A10 0.8 0 0 0 611.75 466.6V433.35Z" fill="url(#g_pink)"/>
<path d="M591.75 433.35H611.75V434.95A10 0.9 0 0 1 591.75 434.95Z" fill="#fcaeae" opacity="0.8"/>
<text x="601.32" y="482.6" class="dl">-0.25%</text>
<path d="M615.5 433.35V461.28A10 0.8 0 0 0 635.5 461.28V433.35Z" fill="url(#g_pink)"/>
<path d="M615.5 433.35H635.5V434.95A10 0.9 0 0 1 615.5 434.95Z" fill="#fcaeae" opacity="0.8"/>
<text x="625.48" y="477.28" class="dl">-0.21%</text>
<path d="M639.25 433.35V485.22A10 0.8 0 0 0 659.25 485.22V433.35Z" fill="url(#g_pink)"/>
<path d="M639.25 433.35H659.25V434.95A10 0.9 0 0 1 639.25 434.95Z" fill="#fcaeae" opacity="0.8"/>
<text x="649.64" y="501.22" class="dl">-0.39%</text>
<path d="M663 433.35V467.93A10 0.8 0 0 0 683 467.93V433.35Z" fill="url(#g_pink)"/>
<path d="M663 433.35H683V434.95A10 0.9 0 0 1 663 434.95Z" fill="#fcaeae" opacity="0.8"/>
<text x="673.8" y="483.93" class="dl">-0.26%</text>
<path d="M686.75 418.64V432.9A10.25 0.85 0 0 0 707.25 432.9V418.64A10.25 0.85 0 0 0 686.75 418.64Z" fill="url(#g_pink)"/>
<ellipse cx="697" cy="418.64" rx="10.25" ry="0.85" fill="#ee7e7e"/>
<text x="698.21" y="409.39" class="dl">0.12%</text>
<rect x="737.05" y="371.05" width="229.1" height="154.65" fill="#f0f0f0" stroke="#000" stroke-width="2.1"/>
<rect x="739.1" y="373.1" width="225" height="150.55" fill="none" stroke="#f8f8f8" stroke-width="2"/>
<text x="753" y="386.7" class="ct" font-size="10.29" textLength="98.25" lengthAdjust="spacingAndGlyphs">Daily % Change NZD</text>
<path d="M781.8 406.2L788 407M788 407H953.25" class="gl"/>
<path d="M781.8 421.7L788 422.5M788 422.5H948.75" class="gl"/>
<path d="M781.8 437.95L788 438M788 438H922.8" class="gl"/>
<path d="M781.8 453.7L788 454M788 454H948.75" class="gl"/>
<path d="M781.8 469.7L788 469.5M788 469.5H826.16M884.64 469.5H948.75" class="gl"/>
<path d="M781.8 485.45L788 485M788 485H948.75" class="gl"/>
<path d="M781.8 501.2L788 501.5M812.03 501.5H874.48M908.8 501.5H953.25" class="gl"/>
<text x="773" y="409.5" class="yl">0.00%</text>
<text x="773" y="425" class="yl">-0.10%</text>
<text x="773" y="441.25" class="yl">-0.20%</text>
<text x="773" y="457" class="yl">-0.30%</text>
<text x="773" y="473" class="yl">-0.40%</text>
<text x="773" y="488.75" class="yl">-0.50%</text>
<text x="773" y="504.5" class="yl">-0.60%</text>
<text x="794.33" y="514.75" class="cl" textLength="15.0" lengthAdjust="spacingAndGlyphs">USD</text>
<text x="818.82" y="514.75" class="cl" textLength="14.25" lengthAdjust="spacingAndGlyphs">EUR</text>
<text x="843.19" y="514.75" class="cl" textLength="14.75" lengthAdjust="spacingAndGlyphs">GBP</text>
<text x="867.56" y="514.75" class="cl" textLength="11.75" lengthAdjust="spacingAndGlyphs">JPY</text>
<text x="891.93" y="514.75" class="cl" textLength="14.25" lengthAdjust="spacingAndGlyphs">CHF</text>
<text x="916.3" y="514.75" class="cl" textLength="15.5" lengthAdjust="spacingAndGlyphs">CAD</text>
<text x="940.67" y="514.75" class="cl" textLength="16.25" lengthAdjust="spacingAndGlyphs">AUD</text>
<path d="M786 406.6V485.6A10.12 0.8 0 0 0 806.25 485.6V406.6Z" fill="url(#g_red)"/>
<path d="M786 406.6H806.25V408.2A10.12 0.9 0 0 1 786 408.2Z" fill="#ff1616" opacity="0.8"/>
<text x="794.88" y="501.6" class="dl">-0.50%</text>
<path d="M810 406.6V493.5A10 0.8 0 0 0 830 493.5V406.6Z" fill="url(#g_red)"/>
<path d="M810 406.6H830V408.2A10 0.9 0 0 1 810 408.2Z" fill="#ff1616" opacity="0.8"/>
<text x="819.16" y="509.5" class="dl">-0.55%</text>
<path d="M833.75 406.6V460.32A10 0.8 0 0 0 853.75 460.32V406.6Z" fill="url(#g_red)"/>
<path d="M833.75 406.6H853.75V408.2A10 0.9 0 0 1 833.75 408.2Z" fill="#ff1616" opacity="0.8"/>
<text x="843.32" y="476.32" class="dl">-0.34%</text>
<path d="M857.5 406.6V457.16A10 0.8 0 0 0 877.5 457.16V406.6Z" fill="url(#g_red)"/>
<path d="M857.5 406.6H877.5V408.2A10 0.9 0 0 1 857.5 408.2Z" fill="#ff1616" opacity="0.8"/>
<text x="867.48" y="473.16" class="dl">-0.32%</text>
<path d="M881.25 406.6V485.6A10 0.8 0 0 0 901.25 485.6V406.6Z" fill="url(#g_red)"/>
<path d="M881.25 406.6H901.25V408.2A10 0.9 0 0 1 881.25 408.2Z" fill="#ff1616" opacity="0.8"/>
<text x="891.64" y="501.6" class="dl">-0.50%</text>
<path d="M905 406.6V461.9A10 0.8 0 0 0 925 461.9V406.6Z" fill="url(#g_red)"/>
<path d="M905 406.6H925V408.2A10 0.9 0 0 1 905 408.2Z" fill="#ff1616" opacity="0.8"/>
<text x="915.8" y="477.9" class="dl">-0.35%</text>
<path d="M928.75 406.6V425.56A10 0.8 0 0 0 948.75 425.56V406.6Z" fill="url(#g_red)"/>
<path d="M928.75 406.6H948.75V408.2A10 0.9 0 0 1 928.75 408.2Z" fill="#ff1616" opacity="0.8"/>
<text x="939.96" y="441.56" class="dl">-0.12%</text>
</g>
</svg>
</body></html>
